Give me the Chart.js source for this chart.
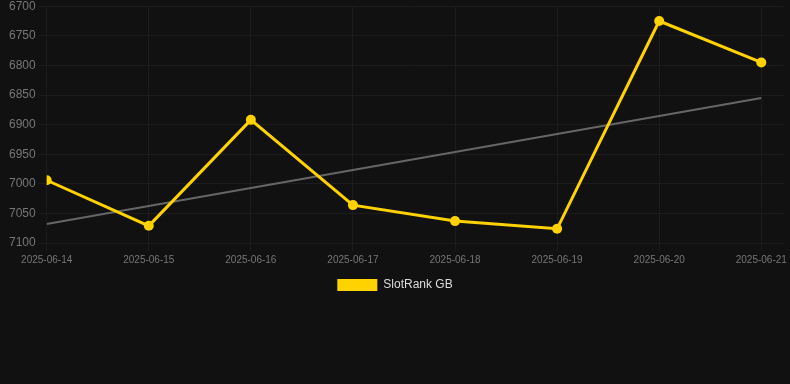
<!DOCTYPE html>
<html>
<head>
<meta charset="utf-8">
<script src="https://cdn.jsdelivr.net/npm/chart.js@4"></script>
<style>
  html, body { margin: 0; padding: 0; background: #111111; }
  #wrap { width: 790px; height: 305px; margin-top: -4px; position: relative; }
</style>
</head>
<body>
<div id="wrap"><canvas id="rankChart"></canvas></div>
<script>
// chart data
const dates = ["2025-06-14", "2025-06-15", "2025-06-16", "2025-06-17",
               "2025-06-18", "2025-06-19", "2025-06-20", "2025-06-21"];
const rankGB = [6994, 7071, 6892, 7036, 7063, 7076, 6725, 6795];
const trendEnds = [7068, 6855];   // trend line at first and last day
const yTicks = [6700, 6750, 6800, 6850, 6900, 6950, 7000, 7050, 7100];

const rankPoints = rankGB.map((v, i) => ({ x: i, y: v }));
const trendPoints = [{ x: 0, y: trendEnds[0] }, { x: dates.length - 1, y: trendEnds[1] }];

const ctx = document.getElementById("rankChart");

new Chart(ctx, {
    type: "line",
    data: {
        datasets: [{
            label: "SlotRank GB",
            data: rankPoints,
            borderColor: "#FFD200",
            backgroundColor: "#FFD200",
            borderWidth: 3,
            pointRadius: 5,
            pointBackgroundColor: "#FFD200",
            pointBorderWidth: 0,
            tension: 0
        }, {
            label: "trend",
            data: trendPoints,
            borderColor: "#666666",
            borderWidth: 2,
            pointRadius: 0,
            tension: 0
        }]
    },
    options: {
        responsive: true,
        maintainAspectRatio: false,
        animation: false,
        scales: {
            x: {
                type: "linear",
                min: 0,
                max: 7.22,
                grid: { color: "#1c1c1c" },
                border: { display: false },
                ticks: {
                    stepSize: 1,
                    includeBounds: false,
                    color: "#777777",
                    font: { size: 10, family: "Liberation Sans, Arial, sans-serif" },
                    maxRotation: 0,
                    callback: v => dates[v]
                }
            },
            y: {
                reverse: true,
                min: yTicks[0],
                max: yTicks[yTicks.length - 1],
                grid: { color: "#1c1c1c" },
                border: { display: false },
                afterFit: s => { s.width += 6; },
                ticks: {
                    stepSize: 50,
                    color: "#777777",
                    font: { size: 12, family: "Liberation Sans, Arial, sans-serif" },
                    callback: v => String(v)
                }
            }
        },
        plugins: {
            legend: {
                position: "bottom",
                labels: {
                    color: "#dddddd",
                    boxWidth: 40,
                    font: { size: 12, family: "Liberation Sans, Arial, sans-serif" },
                    generateLabels: chart =>
                        Chart.defaults.plugins.legend.labels.generateLabels(chart)
                            .filter(item => item.text !== "trend")
                            .map(item => ({ ...item, lineWidth: 0 }))
                }
            },
            tooltip: { enabled: false }
        }
    }
});
</script>
</body>
</html>
